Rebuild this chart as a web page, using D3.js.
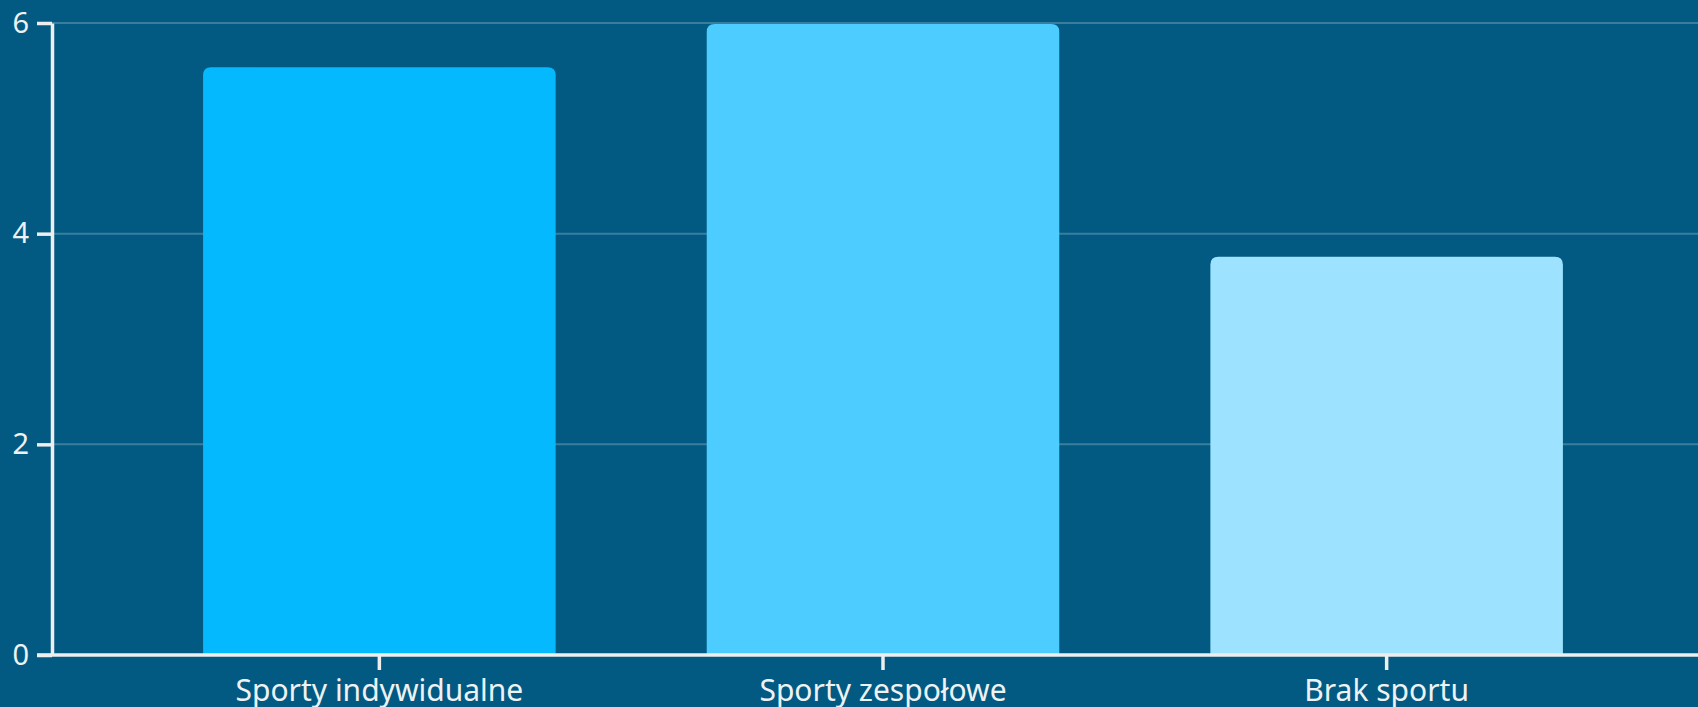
<!DOCTYPE html>
<html>
<head>
<meta charset="utf-8">
<script src="https://cdn.jsdelivr.net/npm/d3@7"></script>
<style>
	html, body { margin: 0; padding: 0; background: #025a82; overflow: hidden; }
	svg { display: block; }
</style>
</head>
<body>
<svg id="chart"></svg>
<script>
// bar chart: sport type vs value
const WIDTH = 1698;
const HEIGHT = 707;

const categories = ["Sporty indywidualne", "Sporty zespołowe", "Brak sportu"];
const values = [5.58, 5.99, 3.78];
const colors = ["#05b9ff", "#4dcdff", "#9de3ff"];
const yTicks = [0, 2, 4, 6];

const margin = { top: 23, right: -16, bottom: 52, left: 52 };

const svg = d3.select("#chart")
	.attr("width", WIDTH)
	.attr("height", HEIGHT)
	.style("font-family", "'Noto Sans', sans-serif");

svg.append("rect")
	.attr("width", WIDTH)
	.attr("height", HEIGHT)
	.attr("fill", "#025a82");

// scales
const xScale = d3.scaleBand()
	.domain(categories)
	.range([margin.left, WIDTH - margin.right])
	.padding(0.3);

const yScale = d3.scaleLinear()
	.domain([0, 6])
	.range([HEIGHT - margin.bottom, margin.top]);

// grid lines
svg.append("g")
	.selectAll("line")
	.data(yTicks.slice(1))
	.join("line")
		.attr("x1", margin.left)
		.attr("x2", WIDTH)
		.attr("y1", d => yScale(d))
		.attr("y2", d => yScale(d))
		.attr("stroke", "rgba(255,255,255,0.22)")
		.attr("stroke-width", 2);

// bars, rounded only at the top
const barPath = d => {
	const x = xScale(d.cat), w = xScale.bandwidth();
	const y = yScale(d.value), y0 = yScale(0);
	const r = 8;
	return `M${x},${y0}V${y + r}Q${x},${y} ${x + r},${y}H${x + w - r}Q${x + w},${y} ${x + w},${y + r}V${y0}Z`;
};

svg.append("g")
	.selectAll("path")
	.data(categories.map((cat, i) => ({ cat, value: values[i], color: colors[i] })))
	.join("path")
		.attr("d", barPath)
		.attr("fill", d => d.color);

// axes
const yAxis = g => g
	.attr("transform", `translate(${margin.left},0)`)
	.call(d3.axisLeft(yScale).tickValues(yTicks).tickFormat(d3.format("d"))
		.tickSize(15).tickPadding(8).tickSizeOuter(0))
	.call(g => g.select(".domain").attr("stroke", "#eeeeee").attr("stroke-width", 3.5))
	.call(g => g.selectAll(".tick line").attr("stroke", "#eeeeee").attr("stroke-width", 3.5))
	.call(g => g.selectAll(".tick text")
		.attr("fill", "#eef2f4")
		.style("font-size", "29px")
		.style("font-family", "'Noto Sans', sans-serif"));

const xAxis = g => g
	.attr("transform", `translate(0,${yScale(0)})`)
	.call(d3.axisBottom(xScale).tickSize(15).tickPadding(10).tickSizeOuter(0))
	.call(g => g.select(".domain").attr("stroke", "#eeeeee").attr("stroke-width", 3.5)
		.attr("d", `M${margin.left - 15},0H${WIDTH}`))
	.call(g => g.selectAll(".tick line").attr("stroke", "#eeeeee").attr("stroke-width", 3.5))
	.call(g => g.selectAll(".tick text")
		.attr("fill", "#eef2f4")
		.style("font-size", "30px")
		.style("font-family", "'Noto Sans', sans-serif"));

svg.append("g").call(yAxis);
svg.append("g").call(xAxis);
</script>
</body>
</html>
